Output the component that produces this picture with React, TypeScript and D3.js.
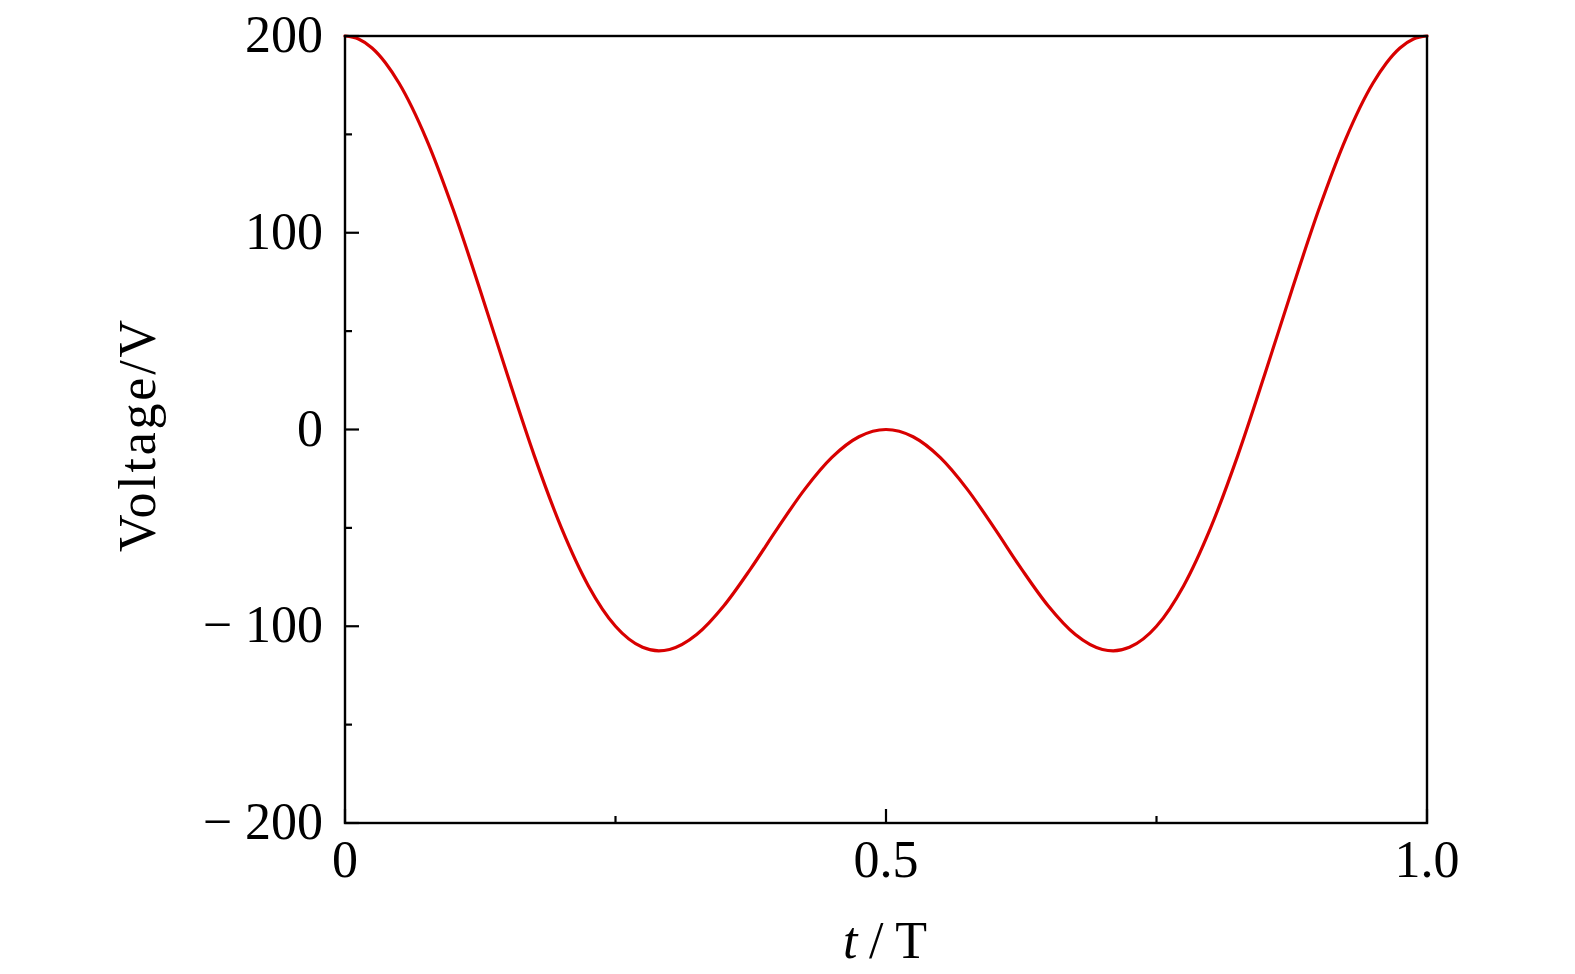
import React from "react";
import * as d3 from "d3";

const tValues = [
  0, 0.0125, 0.025, 0.0375, 0.05, 0.075, 0.1, 0.125, 0.15, 0.175, 0.2, 0.225, 0.25, 0.275, 0.29, 0.3, 0.325, 0.35, 0.375, 0.4, 0.425, 0.45, 0.475,
  0.5, 0.525, 0.55, 0.575, 0.6, 0.625, 0.65, 0.675, 0.7, 0.71, 0.725, 0.75, 0.775, 0.8, 0.825, 0.85, 0.875, 0.9, 0.925, 0.95, 0.9625, 0.975, 0.9875, 1.0,
];
const voltage = [
  200, 198.5, 193.9, 186.3, 176.0, 147.9, 111.8, 70.7, 27.9, -13.4, -50.0, -79.5, -100.0, -110.7, -112.5, -111.8, -104.2, -89.7, -70.7, -50.0, -30.3, -14.2, -3.7,
  0, -3.7, -14.2, -30.3, -50.0, -70.7, -89.7, -104.2, -111.8, -112.5, -110.7, -100.0, -79.5, -50.0, -13.4, 27.9, 70.7, 111.8, 147.9, 176.0, 186.3, 193.9, 198.5, 200,
];
const yMajorTicks = [-200, -100, 0, 100, 200];
const yMinorTicks = [-150, -50, 50, 150];
const xMajorTicks = [0, 0.5, 1.0];
const xMinorTicks = [0.25, 0.75];
const xTickLabels = ["0", "0.5", "1.0"];

const W = 1575;
const H = 974;
const left = 345;
const right = 1427;
const top = 36;
const bottom = 823;
const FONT = "'Liberation Serif', 'Times New Roman', serif";
const FS = 52;

export default function App() {
  const x = d3.scaleLinear().domain([0, 1]).range([left, right]);
  const y = d3.scaleLinear().domain([-200, 200]).range([bottom, top]);
  const pts = tValues.map((t, i) => [t, voltage[i]] as [number, number]);
  const line = d3
    .line<[number, number]>()
    .x((d) => x(d[0]))
    .y((d) => y(d[1]))
    .curve(d3.curveMonotoneX);

  return (
    <svg width={W} height={H} style={{ display: "block", position: "absolute", left: 0, top: 0 }}>
      <rect x={0} y={0} width={W} height={H} fill="#fff" />
      {yMajorTicks.map((v) => (
        <line key={"ym" + v} x1={left} x2={left + 14} y1={y(v)} y2={y(v)} stroke="#000" strokeWidth={2.2} />
      ))}
      {yMinorTicks.map((v) => (
        <line key={"yn" + v} x1={left} x2={left + 7} y1={y(v)} y2={y(v)} stroke="#000" strokeWidth={2.2} />
      ))}
      {xMajorTicks.map((v) => (
        <line key={"xm" + v} x1={x(v)} x2={x(v)} y1={bottom} y2={bottom - 14} stroke="#000" strokeWidth={2.2} />
      ))}
      {xMinorTicks.map((v) => (
        <line key={"xn" + v} x1={x(v)} x2={x(v)} y1={bottom} y2={bottom - 7} stroke="#000" strokeWidth={2.2} />
      ))}
      <path d={line(pts) || ""} fill="none" stroke="#d80000" strokeWidth={3.2} strokeLinecap="round" />
      <rect x={left} y={top} width={right - left} height={bottom - top} fill="none" stroke="#000" strokeWidth={2.4} />
      {yMajorTicks.map((v) => (
        <text key={"yl" + v} x={323} y={y(v) + 16} textAnchor="end" fontFamily={FONT} fontSize={FS} fill="#000">
          {v < 0 ? (
            <>
              <tspan>−</tspan>
              <tspan dx={13}>{String(Math.abs(v))}</tspan>
            </>
          ) : (
            String(v)
          )}
        </text>
      ))}
      {xMajorTicks.map((v, i) => (
        <text key={"xl" + v} x={x(v)} y={877} textAnchor="middle" fontFamily={FONT} fontSize={FS} fill="#000">
          {xTickLabels[i]}
        </text>
      ))}
      <text
        x={843}
        y={958}
        fontFamily={FONT}
        fontSize={FS}
        fill="#000"
        textLength={84}
        lengthAdjust="spacing"
      >
        <tspan fontStyle="italic">t</tspan>
        <tspan>/T</tspan>
      </text>
      <text
        transform={`translate(155, 436) rotate(-90)`}
        textAnchor="middle"
        fontFamily={FONT}
        fontSize={FS}
        fill="#000"
        textLength={232}
        lengthAdjust="spacing"
      >
        Voltage/V
      </text>
    </svg>
  );
}
